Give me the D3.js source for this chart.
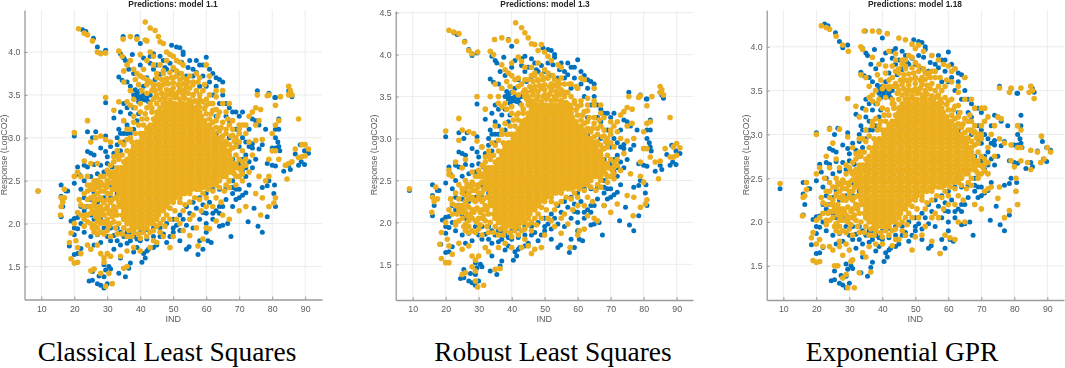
<!DOCTYPE html>
<html lang="en">
  <head>
    <meta charset="utf-8">
    <title>Predictions</title>
    <script src="https://d3js.org/d3.v7.min.js"></script>
    <style>
      html, body { margin: 0; background: #fff; }
      svg { display: block; }
    </style>
  </head>
<body>

<script>
var xTicks = [10, 20, 30, 40, 50, 60, 70, 80, 90];
var yTicksShort = [1.5, 2, 2.5, 3, 3.5, 4];
var yTicksLong = [1.5, 2, 2.5, 3, 3.5, 4, 4.5];

// observed response, same in the three fits
var trueResponse = [[22.5,4.26],[23.5,4.24],[25.8,4.16],[27,4.06],[29.5,4.02],[28,3.99],[34.8,4.18],[39,4.18],[40,4.1],[34,3.98],[35,3.93],[37.6,3.97],[35.5,3.9],[33.5,3.71],[34.5,3.67],[36,3.65],[37,3.6],[38,3.5],[39,3.52],[40,3.48],[41,3.5],[42,3.47],[43,3.5],[29.5,3.41],[32,3.23],[33.5,3.1],[35,3.2],[36,3.15],[37,3.28],[33,3],[34,3.05],[35,3.05],[37,3.05],[38,3.1],[39,3.2],[24,3.07],[20,3.02],[25.5,3],[26.5,3.07],[29.5,3.02],[28,2.88],[24,2.84],[25,2.82],[26,2.8],[29.5,2.84],[30,2.78],[32,2.82],[21,2.66],[21.5,2.57],[20,2.47],[23,2.68],[24,2.66],[26,2.69],[28,2.68],[30,2.7],[31.5,2.66],[16,2.45],[17.5,2.38],[16,2.32],[16.5,2.2],[16,2.08],[9,2.38],[18,2.38],[19,2.03],[20,2.06],[21,2.07],[22,2.2],[22,2.4],[23,2.3],[24,2.2],[25,2.1],[27,2.43],[26,2.36],[29,2.3],[31,2.3],[20,1.95],[21,1.94],[23,1.9],[18.5,1.74],[20,1.87],[20,1.64],[21,1.65],[22,1.71],[25,1.85],[26,1.75],[27,1.87],[28,1.78],[30,1.85],[31,1.8],[32,1.86],[33,1.8],[34,1.75],[35,1.85],[36,1.77],[37,1.8],[38,1.85],[39,1.72],[40,1.8],[41,1.65],[42,1.68],[24.5,1.33],[25.5,1.34],[25.5,1.44],[27,1.3],[28,1.28],[29,1.25],[30,1.3],[29,1.38],[27.5,1.39],[29.5,1.46],[30.5,1.5],[31,1.47],[33.5,1.42],[35.5,1.38],[36.5,1.48],[37,1.54],[32,1.7],[34,1.6],[29,1.52],[38,1.67],[40.5,1.55],[41.5,1.6],[42.5,1.7],[44,1.72],[45,1.75],[46,1.85],[48,1.78],[49,1.85],[50,1.9],[52,1.8],[54,1.7],[54.8,1.73],[57.5,1.64],[59,1.7],[58,1.8],[60.5,1.8],[61.5,1.78],[60,1.9],[67.5,1.85],[64,1.97],[65,1.98],[66.5,2],[72.7,2.02],[75.7,1.97],[77,1.9],[78.5,2.08],[81,2.2],[80.5,2.35],[80.7,2.45],[79,2.5],[77,2.42],[78.5,2.44],[74.5,2.18],[73,2.45],[72,2.36],[71,2.33],[69,2.28],[70,2.3],[68,2.2],[63,2.15],[64,2.2],[62,2.12],[59,2.13],[60,2.12],[78.5,2.7],[80,2.68],[81,2.67],[83.5,2.61],[85,2.68],[85.5,2.63],[88,2.68],[88.8,2.72],[89.8,2.69],[91,2.82],[89.8,2.85],[88.5,2.92],[87,2.81],[82.3,2.85],[82,2.9],[81,3],[81.7,2.95],[80,2.88],[81,2.88],[77,2.92],[76,2.87],[73,2.9],[74,2.93],[72,2.8],[70,2.9],[82,3.22],[81,3.1],[82,3.1],[78,3.1],[75.5,3.55],[79,3.52],[80.8,3.47],[85,3.55],[85.5,3.52],[86,3.48],[81,3.47],[76,3.15],[74,3.22],[75,3.2],[73,3.1],[71,3.3],[69,3.3],[70,3.25],[66,3.4],[67,3.35],[68,3.3],[65,3.65],[64,3.68],[63,3.7],[62,3.75],[61,3.8],[60,3.94],[57,3.9],[58,3.85],[59,3.85],[55,3.9],[56,3.8],[53,4],[52,4.05],[51,4.06],[49.5,4.08],[53,3.97],[46,3.95],[47,3.9],[45,3.85],[44,3.8],[43,3.87],[42,3.7],[41,3.6],[43,3.65],[48,3.8],[50,3.8],[52,3.75],[54,3.72],[56,3.72],[58,3.6],[60,3.6],[62,3.5],[64,3.4],[66,3.25],[63,3.25],[68,2.75],[70,2.7],[71,2.6],[68,2.5],[66,2.42],[64,2.4],[62,2.4],[60,2.35],[58,2.3],[56,2.25],[54,2.2],[52,2.1],[50,2.05],[48,2],[46,1.95],[44,1.95],[42,1.93],[40,1.9],[38,1.95],[36,1.9],
  [39,3.47],[40.5,3.45],[41.5,3.44],[39.5,3.42],[42.5,3.42],[40,3.55],[38.5,3.56],[44.5,3.68],[46,3.74],[47.5,3.82],[49,3.87],[51,3.9],[52.5,3.88],[54.5,3.82],[57,3.76],[59,3.72],[61,3.65],[63,3.6],[65,3.5],[67,3.2],[69,3.1],[70,3.05],[71,3],[72,2.95],[73,2.72],[74,2.65],[72,2.55],[70,2.4],[68,2.35],[66,2.28],[64,2.12],[62,2.05],[60,2],[58,2.05],[56,1.95],[54,1.98],[52,1.92],[50,1.95],[47,1.88],[44,1.85],[42,1.82],[39,1.82],[37,1.9],[34,1.9],[33,1.95],[31,1.95],[29,1.95],[28,2.05],[26,2.05],[27,2.25],[25,2.28],[23,2.15],[22,2],[23,2.5],[25,2.55],[27,2.58],[29,2.6],[33,2.5],[31,2.45],[33,2.35],[34,2.85],[33,2.92],[31,2.9],[35,2.95],[36,3.05],[36,3.35],[38,3.35],[39.5,3.28],[35,3.4],[34,3.3],[36.5,3.8],[38,3.75],[40,3.85],[41,3.93],[43,3.95],[44,3.98],[63,3.05],[65,2.95],[67,3],[69,2.95],[71,2.75],[72,2.65],[74,2.88],[75,2.75],[68,2.42],[69,2.4],[65,2.2],[61,2.25],[59,2.22],[57,2.18],[55,2.12],[53,2.05],[51,1.98]];

// solid middle of the orange cloud, read row by row, points can't be told apart there
var coreRows = [
  [3.4,[47,48,49.5,50.5,52,53,54.5,55.5]],
  [3.35,[46,47.5,48.5,50,51,52.5,53.5,55,56,57]],
  [3.3,[45,46,47,48,49.5,50.5,52,53,54.5,55.5,57,58]],
  [3.25,[45,46,47.5,48.5,50,51,52.5,53.5,55,56,57.5,58.5]],
  [3.2,[44.5,45.5,47,48,49.5,50.5,52,53,54.5,55.5,57,58,59.5]],
  [3.15,[43,44,45,46,47.5,48.5,50,51,52.5,53.5,55,56,57.5,58.5,60,61]],
  [3.1,[42,43,44.5,45.5,47,48,49.5,50.5,52,53,54.5,55.5,57,58,59.5,60.5,62]],
  [3.05,[41,42.5,43.5,45,46,47.5,48.5,50,51,52.5,53.5,55,56,57.5,58.5,60,61,62.5]],
  [3,[40.5,42,43,44.5,45.5,47,48,49.5,50.5,52,53,54.5,55.5,57,58,59.5,60.5,62,63,64]],
  [2.95,[39,40,41,42.5,43.5,45,46,47.5,48.5,50,51,52.5,53.5,55,56,57.5,58.5,60,61,62.5,63.5,65]],
  [2.9,[38,39.5,40.5,42,43,44.5,45.5,47,48,49.5,50.5,52,53,54.5,55.5,57,58,59.5,60.5,62,63,64.5,65.5]],
  [2.85,[37.5,38.5,40,41,42.5,43.5,45,46,47.5,48.5,50,51,52.5,53.5,55,56,57.5,58.5,60,61,62.5,63.5,65,66,67]],
  [2.8,[37,38,39.5,40.5,42,43,44.5,45.5,47,48,49.5,50.5,52,53,54.5,55.5,57,58,59.5,60.5,62,63,64.5,65.5,67]],
  [2.75,[36,37.5,38.5,40,41,42.5,43.5,45,46,47.5,48.5,50,51,52.5,53.5,55,56,57.5,58.5,60,61,62.5,63.5,65,66,67.5]],
  [2.7,[35.5,37,38,39.5,40.5,42,43,44.5,45.5,47,48,49.5,50.5,52,53,54.5,55.5,57,58,59.5,60.5,62,63,64.5,65.5,67,68,69]],
  [2.65,[35,36,37.5,38.5,40,41,42.5,43.5,45,46,47.5,48.5,50,51,52.5,53.5,55,56,57.5,58.5,60,61,62.5,63.5,65,66,67.5,68.5]],
  [2.6,[33,34.5,35.5,37,38,39.5,40.5,42,43,44.5,45.5,47,48,49.5,50.5,52,53,54.5,55.5,57,58,59.5,60.5,62,63,64.5,65.5,67,68]],
  [2.55,[33.5,35,36,37.5,38.5,40,41,42.5,43.5,45,46,47.5,48.5,50,51,52.5,53.5,55,56,57.5,58.5,60,61,62.5,63.5,65,66]],
  [2.5,[32,33,34.5,35.5,37,38,39.5,40.5,42,43,44.5,45.5,47,48,49.5,50.5,52,53,54.5,55.5,57,58,59.5,60.5,62,63]],
  [2.45,[32.5,33.5,35,36,37.5,38.5,40,41,42.5,43.5,45,46,47.5,48.5,50,51,52.5,53.5,55,56,57.5,58.5,60]],
  [2.4,[32,33,34.5,35.5,37,38,39.5,40.5,42,43,44.5,45.5,47,48,49.5,50.5,52,53,54.5,55.5,57,58]],
  [2.35,[33.5,35,36,37.5,38.5,40,41,42.5,43.5,45,46,47.5,48.5,50,51,52.5,53.5,55]],
  [2.3,[33,34.5,35.5,37,38,39.5,40.5,42,43,44.5,45.5,47,48,49.5,50.5,52]],
  [2.25,[33.5,35,36,37.5,38.5,40,41,42.5,43.5,45,46,47.5,48.5,50]],
  [2.2,[34.5,35.5,37,38,39.5,40.5,42,43,44.5,45.5,47,48]],
  [2.15,[35,36,37.5,38.5,40,41,42.5,43.5,45,46,47]],
  [2.1,[34.5,35.5,37,38,39.5,40.5,42,43,44.5,45.5]],
  [2.05,[35,36,37.5,38.5,40,41,42.5,43.5,45]],
  [2,[36,37,38,39.5,40.5,42,43,44]],
  [1.95,[37.5,38.5,40,41,42]]
];

// busy ring around the solid middle, close to the same in all three fits
var haloFit = [[46,3.45],[47.5,3.46],[49,3.44],[50.5,3.47],[52,3.45],[53.5,3.46],[55,3.44],[56.5,3.43],[45,3.5],[46.5,3.52],[48,3.5],[50,3.52],[51.5,3.53],[53,3.5],[54.5,3.52],[56,3.5],[44.5,3.55],[46,3.57],[48,3.56],[50,3.58],[52,3.57],[53.5,3.56],[55,3.58],[47,3.62],[48.5,3.63],[50,3.64],[51.5,3.62],[53,3.63],[54.5,3.65],[46.5,3.68],[48,3.69],[49.5,3.7],[51,3.72],[53,3.7],[47,3.75],[49,3.76],[51,3.78],[52.5,3.75],[54,3.68],[44,3.58],[43,3.65],[42,3.62],[41,3.7],[39.5,3.62],[38.5,3.68],[40.5,3.55],[42,3.52],[37,3.38],[36,3.42],[38.5,3.35],[40,3.3],[41.5,3.28],[43,3.4],[43.5,3.3],[44,3.22],[38,3.18],[39.5,3.15],[41,3.15],[37,3.1],[38.5,3.05],[40,3.05],[36,2.98],[37.5,2.95],[35,2.92],[36,2.85],[34.5,2.8],[33.5,2.75],[35,2.72],[32,2.72],[33,2.65],[42,3.22],[40.5,3.22],[42.5,3.12],[43.5,3.35],[45,3.4],[44.5,3.47],[57.5,3.4],[58,3.36],[59.5,3.34],[60,3.28],[61,3.22],[62,3.18],[63,3.12],[64,3.08],[65,3.02],[66,2.96],[67,2.92],[68,2.88],[69,2.8],[70,2.75],[71,2.72],[72,2.68],[60,3.38],[62,3.32],[63.5,3.25],[65,3.18],[66.5,3.22],[68,3.1],[69,3],[67.5,3.02],[70,2.95],[71,2.66],[70.5,2.62],[69.5,2.65],[70,2.55],[68.5,2.58],[67,2.5],[66,2.45],[64,2.5],[63,2.45],[62,2.38],[60.5,2.4],[59,2.35],[58,2.28],[56.5,2.3],[55,2.25],[53.5,2.22],[52,2.25],[50.5,2.15],[49,2.18],[48,2.1],[47,2.05],[46,2],[45,1.97],[44,1.92],[43,1.9],[41,1.9],[39.5,1.88],[38,1.9],[36.5,1.92],[35,1.95],[33.5,2],[32.5,1.95],[33,2.1],[32,2.2],[31,2.25],[30,2.35],[31.5,2.4],[30,2.45],[28,2.38],[27,2.35],[26,2.4],[62,2.2],[63,2.3],[64.5,2.25],[60,2.2],[58.5,2.15],[56,2.1],[55,2.05],[53,2.15],[51,2.05],[49,2.05],[47.5,1.97],[46,1.9],[60,2.3],[61.5,2.45],[59,2.42],[64,2.42],[65.5,2.38],[67,2.42],[69,2.55],[71,2.58],[69,2.9],[68.5,2.96],[70,3.1],[71,3.15],[66,3.05],[64.5,3.12],[67,3.15],[63,3.2],[61.5,3.28],[63,3.33],[61,3.4],[59,3.42],[58,3.5],[59.5,3.62],[57,3.55],[56,3.65],[57.5,3.65],[61,3.72],[63,3.48],[65,3.4],[67,3.4],[68,3.03],[34,2.95],[33,2.8],[32,2.78],[31,2.68],[30,2.62],[29,2.55],[28,2.48],[26,2.5],[25,2.4],[24,2.28],[23,2.2],[23,2.35],[24.5,2.2],[25.5,2.15],[26.5,2.08],[27.5,2.05],[28.5,2.12],[29.5,2],[30.5,2.12],[31,2.15],[32,2.02],[30,1.92],[29,1.88],[28,1.9],[26,2.12],[25,2.2],[24,2.02],[23,1.97],[22,2.22],[21.5,2.28],[27,2.28],[28,2.3],[29,2.25],[30,2.28],[31,2.35],[26,2.32],[27.5,2.42],[29,2.38],[24,2.45],[25.5,1.95],[27,1.88],[31,1.85],[33,1.88],[34.5,1.88],[36,1.85],[37.5,1.85],[40,1.83],[42,1.85],[44,1.8],[35,2.05],[33.5,2.2],[32.5,2.3],[32,2.45],[31,2.55],[32,2.6],[34,2.65],[47,3.4],[52,3.6],[49.5,3.5],[45.5,3.62],[43.5,3.55],[45,3.7],[50,3.82],[55,3.72],[48,3.9],[46,3.85],[44,3.85],[47,3.78],
  [26.5,2.2],[28,2.15],[29.5,2.17],[30,2.05],[31.5,2.08],[27.5,2.1],[25,2.12],[23.5,2.1],[29,2.02],[30.5,1.97],[27,2.02],[26,1.98],[28.5,2.27],[29.8,2.42],[31,2.48],[28.5,2.45],[26.5,2.45],[32.5,2.55],[30.5,2.58],[32.5,2.15],[31.5,2.28],[33.5,2.45]];

var fitClassical = [[21.3,4.27],[23,4.22],[24,4.2],[25.5,4.13],[27,4],[28,3.98],[29.5,3.99],[33.5,4.01],[34.5,3.95],[34.8,4.15],[37,4.18],[39,4.15],[41.5,4.35],[43,4.28],[44.5,4.25],[45.5,4.18],[46,4.12],[41.5,4.14],[42,4.13],[47,4.1],[48,4],[49,3.97],[50,3.95],[51,3.9],[52,3.88],[53,3.85],[40,3.97],[42,3.9],[43,4],[44,3.95],[45,3.75],[37,3.9],[36,3.85],[35,3.78],[38,3.8],[39,3.75],[40,3.72],[41,3.8],[42,3.68],[44,3.62],[46,3.6],[48,3.65],[50,3.7],[52,3.68],[54,3.6],[56,3.62],[58,3.7],[60,3.85],[57,3.75],[59,3.55],[61,3.5],[63,3.55],[65,3.55],[64,3.3],[66,3.3],[62,3.4],[60,3.45],[58,3.45],[56,3.5],[35,3.65],[37,3.55],[38,3.45],[40,3.4],[42,3.35],[44,3.45],[47,3.5],[49,3.55],[51,3.48],[53,3.52],[29.5,3.47],[33.5,3.42],[32,3.32],[24,3.2],[20,3.06],[25,2.95],[26.5,3],[28,3.02],[29.5,2.98],[35,3.2],[36,3.1],[37,3],[38,3.25],[31,2.95],[33,2.85],[27,2.7],[25,2.7],[23,2.73],[21,2.6],[20,2.55],[22,2.55],[24,2.55],[25,2.45],[27,2.5],[28,2.55],[29,2.45],[30,2.5],[31,2.6],[16,2.3],[17,2.4],[16.5,2.25],[17,2.3],[15.8,2.1],[9,2.38],[16,2.2],[24,2.38],[25,2.3],[26,2.25],[27,2.15],[28,2.2],[29,2.1],[30,2.2],[31,2],[32,2.1],[28,2],[27,1.95],[26,1.9],[25,2],[24,2.1],[23,2.05],[22,2.1],[21,2.13],[20,2],[19,1.89],[18.5,1.78],[20.5,1.8],[21,1.72],[19,1.59],[20,1.54],[21,1.55],[22,1.65],[24,1.75],[25,1.7],[27,1.75],[28,1.65],[29,1.6],[30,1.65],[31,1.62],[25,1.45],[26,1.47],[28,1.42],[29,1.55],[30.5,1.42],[31.5,1.3],[29.5,1.27],[35,1.48],[36,1.5],[34,1.62],[36,1.68],[38,1.72],[40,1.68],[43,1.72],[45,1.78],[47,1.85],[49,1.72],[50,1.85],[52,2],[53,1.92],[55,1.86],[57,1.95],[59,1.82],[57.5,1.74],[60,1.95],[61,1.94],[63,2.03],[65,2.1],[67,2.05],[70,2.15],[72,2.2],[75,2.35],[77,2.3],[76.5,2.1],[79,2.2],[80.5,2.24],[81,2.3],[79,2.55],[78,2.5],[76,2.55],[73,2.6],[71,2.5],[69,2.45],[67,2.5],[72,2.75],[74,2.8],[71,2.85],[73,2.95],[75,2.97],[77,2.98],[79,2.75],[80,2.85],[81,2.85],[82,2.75],[84,2.68],[85,2.7],[84.5,2.52],[86,2.72],[87,2.87],[88,2.77],[89,2.78],[90,2.79],[90,2.92],[89,2.92],[91,2.87],[88,3.22],[82,3.2],[81,3.15],[80,3.05],[81,3.38],[79,3.5],[78.5,3.49],[82.5,3.48],[85,3.6],[85,3.5],[85.5,3.55],[86,3.5],[75.5,3.5],[76.5,3.33],[75,3.35],[74,3.3],[73,3.25],[72,3.15],[75,3.15],[76,3.2],[70,3.15],[68,3.2],[70,3.05],[72,3.05],[66,3.1]];

var fitRobust = [[21,4.29],[22.5,4.27],[24,4.25],[25.7,4.15],[27,4.05],[28,4.01],[29.7,4.03],[33.5,4.04],[34.5,4],[34.8,4.18],[37,4.2],[39,4.17],[41.2,4.38],[43,4.32],[44,4.26],[45,4.2],[46,4.13],[41.5,4.16],[47,4.12],[49,4.12],[48,4.05],[50,4.03],[51,3.98],[52,3.93],[54,3.88],[55,3.85],[40,3.9],[42,3.97],[43,3.92],[37,3.88],[38,3.82],[39,3.78],[40,3.75],[42,3.72],[44,3.7],[46,3.75],[48,3.7],[50,3.72],[52,3.65],[54,3.62],[56,3.55],[47,3.58],[49,3.6],[51,3.5],[53,3.5],[55,3.45],[57,3.4],[44,3.5],[45,3.45],[46,3.4],[58,3.65],[60,3.6],[62,3.7],[65,3.6],[65,3.45],[63,3.4],[61,3.45],[59,3.45],[67,3.3],[65,3.25],[35,3.65],[37,3.6],[36,3.5],[38,3.42],[40,3.38],[42,3.3],[43,3.2],[29.5,3.5],[33.5,3.5],[32,3.35],[24,3.24],[20,3.09],[24,2.98],[25,3.1],[27,3.08],[28.5,3.06],[29.5,2.97],[35,3.15],[37,3.05],[39,3.05],[31,2.9],[33,2.85],[26,2.75],[23,2.72],[21,2.62],[21,2.57],[22,2.55],[25,2.65],[28,2.6],[30,2.55],[32,2.65],[16,2.3],[17,2.42],[16.5,2.25],[17.5,2.28],[15.8,2.12],[9,2.4],[25,2.35],[26,2.25],[27,2.18],[28,2.28],[29,2.15],[30,2.3],[31,2.05],[32,2.15],[28,2.05],[27,1.95],[26,1.9],[25,2.05],[24,2.15],[23,2],[22,2.1],[21,2.15],[20,2],[18.7,1.88],[18.2,1.74],[20.5,1.8],[21,1.72],[18.7,1.57],[20,1.52],[21,1.52],[22,1.62],[24,1.75],[25,1.68],[27,1.72],[28,1.6],[29,1.55],[30,1.6],[32,1.7],[25,1.38],[26,1.4],[28,1.47],[29,1.42],[29.7,1.23],[31.5,1.25],[29,1.3],[35,1.44],[36.5,1.45],[33,1.65],[36,1.7],[38,1.75],[40,1.7],[43,1.7],[45,1.72],[47,1.68],[46,1.63],[49,1.7],[50,1.85],[52,2.02],[53,1.95],[55,1.87],[57,1.98],[60,1.85],[57.7,1.7],[60.5,1.9],[62,1.92],[63,2.08],[65,2.05],[66,2.02],[68,2.2],[70,2.12],[72,2.22],[75,2.32],[77,2.3],[76.8,2.08],[79,2.18],[80.5,2.22],[81,2.27],[79,2.55],[80,2.48],[76,2.58],[73,2.62],[71,2.52],[69,2.48],[67,2.55],[72,2.75],[74,2.82],[71,2.9],[73,3],[75,2.97],[77,3],[79,2.72],[80,2.88],[81,2.88],[82,2.78],[83.5,2.72],[85,2.73],[84.5,2.52],[86.5,2.88],[88,2.78],[89,2.78],[90,2.8],[90,2.94],[89,2.9],[91,2.89],[88,3.25],[82,3.2],[81,3.18],[80,3.08],[81,3.39],[79,3.51],[78.5,3.49],[82.5,3.5],[85,3.62],[85,3.55],[85.5,3.58],[86,3.52],[75.5,3.5],[76.5,3.35],[75,3.37],[74,3.32],[73,3.28],[72,3.2],[75,3.15],[76.5,3.18],[70,3.2],[68,3.25],[70,3.05],[72,3.08],[66,3.12]];

var fitExponential = [[21.5,4.24],[23,4.22],[24,4.2],[26,4.12],[28,4.02],[29.7,3.95],[33.5,4],[34,3.97],[34.5,4.18],[37,4.18],[39,4.17],[41.5,4.15],[45,4.1],[47,4.08],[49,4.03],[50,3.98],[51,4.02],[52.5,3.95],[49,3.88],[47,3.85],[46,3.8],[45,3.75],[42,3.95],[44,3.92],[55,3.9],[57,3.85],[58.5,3.8],[56,3.72],[54,3.7],[52,3.65],[50,3.65],[48,3.6],[46,3.62],[44,3.55],[42,3.55],[47,3.5],[49,3.5],[51,3.48],[53,3.45],[55,3.4],[57,3.45],[59,3.55],[61,3.6],[63,3.55],[65,3.65],[62,3.75],[60,3.78],[36,3.55],[38,3.5],[40,3.52],[37,3.45],[39,3.4],[41,3.42],[43,3.35],[45,3.3],[35,3.65],[33.5,3.68],[37,3.88],[39,3.8],[41,3.78],[43,3.78],[44,3.72],[29.5,3.41],[32,3.32],[33,3.2],[35,3.28],[37,3.15],[39,3.1],[24,3.06],[20,3],[25,2.9],[27,3.06],[29.5,2.97],[33,2.95],[35,3.05],[31,2.85],[33,2.75],[26,2.72],[23,2.75],[21,2.62],[20,2.55],[22.5,2.5],[24,2.62],[27,2.62],[29,2.65],[31,2.55],[33,2.55],[16,2.28],[17,2.45],[16.5,2.3],[17,2.37],[15.8,2.07],[9,2.44],[24,2.35],[25,2.25],[26,2.3],[27,2.15],[28,2.25],[29,2.08],[30,2.3],[31,2.05],[32,2.2],[28,2.02],[27,1.95],[26,1.9],[25,2.05],[24,2.12],[23,2.02],[22,2.1],[21,2.05],[20,2.02],[19,1.88],[18.5,1.82],[20,1.75],[21,1.8],[19,1.56],[20,1.54],[21,1.55],[22,1.72],[24,1.72],[25,1.68],[27,1.72],[28,1.62],[27,1.78],[29,1.75],[30,1.68],[31,1.57],[25.5,1.5],[26.5,1.5],[28,1.36],[29,1.4],[29.5,1.25],[31.5,1.25],[30.5,1.55],[33,1.42],[35,1.6],[36.5,1.43],[34,1.65],[36,1.72],[38,1.75],[40,1.75],[43,1.73],[45,1.8],[47,1.85],[49,1.68],[50,1.83],[52,1.85],[53,1.95],[55,1.78],[57,2.05],[59,1.85],[57.5,1.64],[60.5,1.82],[62,1.8],[63,2],[65,2],[68,2.2],[70,2.15],[72,2.38],[75,2.27],[77,2.05],[78.5,2.13],[81,2.2],[80.5,2.35],[80.5,2.5],[75.5,2.4],[73,2.4],[71,2.35],[69,2.5],[72,2.55],[74,2.75],[72,2.85],[75.5,2.95],[77,2.9],[79,2.7],[80,2.63],[82,2.7],[79,2.88],[81,2.85],[82,2.85],[85,2.82],[84,2.68],[85,2.6],[87,2.8],[88,2.68],[89,2.72],[88.2,2.98],[90,2.85],[91,2.8],[81,3.1],[82,3.05],[79,3.53],[78.5,3.48],[82,3.53],[84.5,3.48],[85,3.55],[85.5,3.5],[86,3.41],[75.5,3.53],[76,3.18],[75,3.2],[74,3.1],[72,3.2],[70,3.3],[68,3.3],[71,3.3],[73,3],[70,3],[66,3.15],[67,3.05]];

var panels = [
  { title: "Predictions: model 1.1", caption: "Classical Least Squares", fit: fitClassical, yTicks: yTicksShort,
    left: 24.5, right: 322, top: 10, bottom: 299.5, xDomain: [4.9, 95.1], yDomain: [1.115, 4.49], yLabelX: 4, titleX: 173, capX: 167 },
  { title: "Predictions: model 1.3", caption: "Robust Least Squares", fit: fitRobust, yTicks: yTicksLong,
    left: 395.7, right: 693, top: 11, bottom: 300, xDomain: [4.85, 94.95], yDomain: [1.075, 4.52], yLabelX: 374, titleX: 545, capX: 553 },
  { title: "Predictions: model 1.18", caption: "Exponential GPR", fit: fitExponential, yTicks: yTicksShort,
    left: 766.7, right: 1064, top: 10, bottom: 300, xDomain: [4.95, 95.05], yDomain: [1.11, 4.42], yLabelX: 746, titleX: 915, capX: 902 }
];

var corePoints = coreRows.flatMap(r => r[1].map(x => [x, r[0]]));

var svg = d3.select("body")
    .append("svg")
    .attr("width", 1065)
    .attr("height", 368)
    .attr("font-family", "'Liberation Sans', Arial, sans-serif");

function drawPanel(p) {
    var x = d3.scaleLinear().domain(p.xDomain).range([p.left, p.right]);
    var y = d3.scaleLinear().domain(p.yDomain).range([p.bottom, p.top]);

    var g = svg.append("g").style("filter", "blur(0.45px)");

    g.append("g").selectAll("line")
        .data(xTicks)
        .join("line")
        .attr("x1", d => x(d)).attr("x2", d => x(d))
        .attr("y1", p.top).attr("y2", p.bottom)
        .attr("stroke", "#ececec");

    g.append("g").selectAll("line")
        .data(p.yTicks)
        .join("line")
        .attr("x1", p.left).attr("x2", p.right)
        .attr("y1", d => y(d)).attr("y2", d => y(d))
        .attr("stroke", "#ececec");

    var xAxis = g.append("g")
        .attr("transform", `translate(0,${p.bottom})`)
        .call(d3.axisBottom(x).tickValues(xTicks).tickSize(-3).tickPadding(6).tickSizeOuter(0));
    var yAxis = g.append("g")
        .attr("transform", `translate(${p.left},0)`)
        .call(d3.axisLeft(y).tickValues(p.yTicks).tickSize(-3).tickPadding(4).tickSizeOuter(0));

    [xAxis, yAxis].forEach(a => {
        a.selectAll("path, line").attr("stroke", "#9a9a9a");
        a.select("path").attr("stroke-width", 1.3);
        a.selectAll("text").attr("fill", "#5c5c5c").attr("font-size", 8.8).attr("font-family", "'Liberation Sans', Arial, sans-serif");
    });

    g.append("g").selectAll("circle")
        .data(trueResponse)
        .join("circle")
        .attr("cx", d => x(d[0]))
        .attr("cy", d => y(d[1]))
        .attr("r", 2.5)
        .attr("fill", "#0072BD");

    g.append("g").selectAll("circle")
        .data(corePoints.concat(haloFit, p.fit))
        .join("circle")
        .attr("cx", d => x(d[0]))
        .attr("cy", d => y(d[1]))
        .attr("r", 2.8)
        .attr("fill", "#EBAE1E");

    g.append("text")
        .attr("x", p.titleX).attr("y", 7)
        .attr("text-anchor", "middle")
        .attr("font-size", 8.4).attr("font-weight", "bold")
        .attr("fill", "#262626")
        .text(p.title);

    g.append("text")
        .attr("x", (p.left + p.right) / 2).attr("y", 322)
        .attr("text-anchor", "middle")
        .attr("font-size", 9).attr("fill", "#5c5c5c")
        .text("IND");

    g.append("text")
        .attr("transform", `translate(${p.yLabelX},155) rotate(-90)`)
        .attr("dy", "0.35em")
        .attr("text-anchor", "middle")
        .attr("font-size", 8.8).attr("fill", "#5c5c5c")
        .text("Response (LogCO2)");

    svg.append("text")
        .attr("x", p.capX).attr("y", 361)
        .attr("text-anchor", "middle")
        .attr("font-family", "'Liberation Serif', 'Times New Roman', serif")
        .attr("font-size", 27.4)
        .attr("fill", "#000")
        .text(p.caption);
}

panels.forEach(drawPanel);
</script>
</body>
</html>
